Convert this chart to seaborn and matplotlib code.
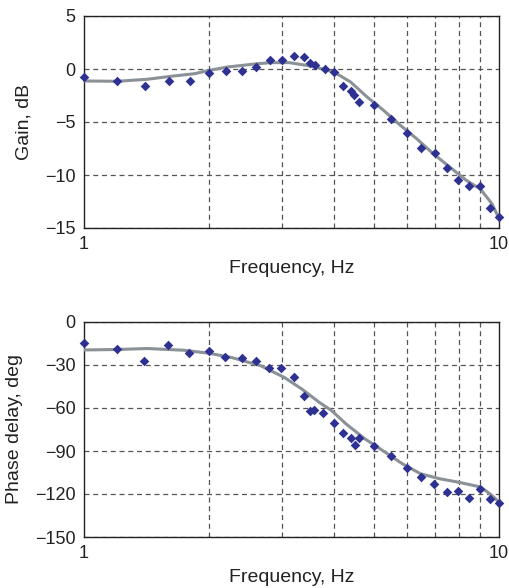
import numpy as np
import pandas as pd
import matplotlib
matplotlib.use("Agg")
import matplotlib.pyplot as plt
import seaborn as sns
from matplotlib.ticker import FixedLocator, NullFormatter, FixedFormatter

sns.set_style("white")
plt.rcParams['font.family'] = ['Liberation Sans', 'DejaVu Sans']

# Measured gain points
gain_freq = [1.0, 1.203, 1.405, 1.602, 1.796, 2.0, 2.20, 2.40, 2.60, 2.81, 3.0, 3.20, 3.39,
             3.50, 3.61, 3.81, 4.0, 4.20, 4.39, 4.48, 4.60, 5.01, 5.50, 6.0, 6.47, 7.01,
             7.51, 7.95, 8.45, 9.0, 9.51, 10.0]
gain_db = [-0.75, -1.16, -1.6, -1.16, -1.16, -0.35, -0.22, -0.22, 0.16, 0.82, 0.82, 1.23, 1.13,
           0.53, 0.35, 0.0, -0.28, -1.6, -2.04, -2.45, -3.14, -3.36, -4.69, -6.07, -7.48, -7.92,
           -9.37, -10.44, -11.04, -11.0, -13.14, -13.93]

# Fitted gain curve
gfit_freq = [1.0, 1.203, 1.42, 1.62, 1.85, 2.0, 2.22, 2.62, 2.83, 3.12, 3.52, 4.0, 4.39, 4.81,
             5.27, 5.78, 6.33, 6.94, 7.61, 8.34, 9.03, 9.61, 10.0]
gfit_db = [-1.13, -1.16, -0.97, -0.69, -0.44, -0.13, 0.19, 0.5, 0.6, 0.6, 0.28, -0.28, -1.23,
           -2.64, -3.9, -5.3, -6.57, -7.99, -9.25, -10.5, -11.35, -12.7, -14.1]

# Measured phase points
phase_freq = [1.0, 1.20, 1.395, 1.596, 1.79, 2.0, 2.19, 2.40, 2.60, 2.79, 2.99, 3.20, 3.39,
              3.50, 3.59, 3.77, 4.0, 4.20, 4.39, 4.49, 4.61, 4.99, 5.50, 6.0, 6.47, 6.96,
              7.51, 7.95, 8.47, 9.02, 9.51, 10.0]
phase_deg = [-14.8, -18.5, -27.1, -16.2, -21.8, -20.2, -24.1, -25.2, -27.1, -32.2, -32.4, -38.7,
             -51.4, -61.8, -61.4, -63.2, -70.6, -77.4, -81.1, -85.7, -81.1, -86.6, -93.6, -101.7,
             -108.2, -113.0, -118.6, -118.1, -122.5, -116.5, -123.5, -126.2]

# Fitted phase curve
pfit_freq = [1.0, 1.20, 1.42, 1.74, 2.0, 2.27, 2.67, 3.04, 3.35, 3.69, 3.95, 4.28, 4.75,
             5.27, 5.85, 6.47, 7.18, 7.96, 8.45, 9.03, 9.50, 9.80, 10.0]
pfit_deg = [-19.5, -19.2, -18.5, -19.7, -21.8, -24.8, -30.6, -38.7, -46.8, -56.1, -61.8, -71.1,
            -81.5, -90.1, -98.9, -105.9, -109.3, -111.7, -113.3, -115.1, -119.8, -123.2, -126.0]

marker_color = "#2E3192"
line_color = "#8A9197"
grid_color = "#555555"

df_g = pd.DataFrame({"f": gain_freq, "v": gain_db})
df_gf = pd.DataFrame({"f": gfit_freq, "v": gfit_db})
df_p = pd.DataFrame({"f": phase_freq, "v": phase_deg})
df_pf = pd.DataFrame({"f": pfit_freq, "v": pfit_deg})

fig = plt.figure(figsize=(5.10, 5.88), dpi=100)
ax1 = fig.add_axes([84/510, 1-228/588, 415/510, 212/588])
ax2 = fig.add_axes([84/510, 1-537/588, 415/510, 215/588])

def style(ax, ylim, yticks, ylabel):
    ax.set_xscale("log")
    ax.set_xlim(1, 10)
    ax.set_ylim(*ylim)
    ax.xaxis.set_major_locator(FixedLocator([1, 10]))
    ax.xaxis.set_major_formatter(FixedFormatter(["1", "10"]))
    ax.xaxis.set_minor_locator(FixedLocator([2, 3, 4, 5, 6, 7, 8, 9]))
    ax.xaxis.set_minor_formatter(NullFormatter())
    ax.set_yticks(yticks)
    ax.set_yticklabels([str(t).replace("-", "\u2212") for t in yticks])
    ax.grid(False)
    ax.grid(True, which="minor", axis="x", color=grid_color, linestyle=(0, (4, 3)), linewidth=0.9)
    ax.grid(True, which="major", axis="y", color=grid_color, linestyle=(0, (4, 3)), linewidth=0.9)
    ax.tick_params(axis="both", which="both", length=0, labelsize=13, colors="#222222")
    ax.tick_params(axis="x", pad=6)
    ax.tick_params(axis="y", pad=6)
    for s in ax.spines.values():
        s.set_color("#222222")
        s.set_linewidth(1.0)
        s.set_visible(True)
    ax.set_xlabel("Frequency, Hz", fontsize=14, color="#222222", labelpad=5)
    ax.set_ylabel(ylabel, fontsize=14, color="#222222", labelpad=9)

sns.lineplot(data=df_gf, x="f", y="v", ax=ax1, color=line_color, linewidth=2.2, zorder=3)
sns.scatterplot(data=df_g, x="f", y="v", ax=ax1, marker="D", s=24, color=marker_color,
                edgecolor=marker_color, linewidth=0, zorder=4, clip_on=False)
style(ax1, (-15, 5), [5, 0, -5, -10, -15], "Gain, dB")

sns.lineplot(data=df_pf, x="f", y="v", ax=ax2, color=line_color, linewidth=2.2, zorder=3)
sns.scatterplot(data=df_p, x="f", y="v", ax=ax2, marker="D", s=24, color=marker_color,
                edgecolor=marker_color, linewidth=0, zorder=4, clip_on=False)
style(ax2, (-150, 0), [0, -30, -60, -90, -120, -150], "Phase delay, deg")

fig.savefig("out.png", dpi=100)
